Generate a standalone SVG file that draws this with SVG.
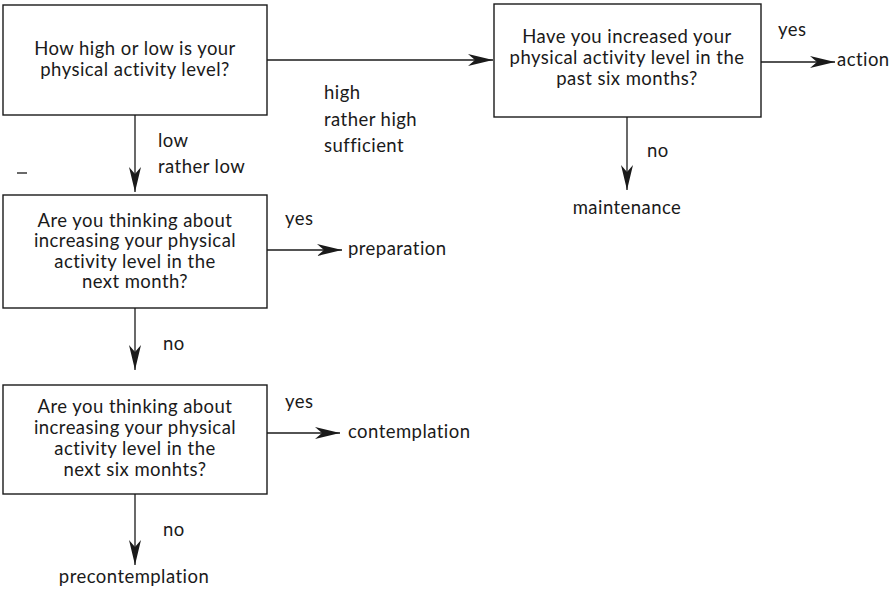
<svg xmlns="http://www.w3.org/2000/svg" width="893" height="594" viewBox="0 0 893 594">
  <style>
    .box { fill: #ffffff; stroke: #1a1a1a; stroke-width: 1.4; }
    .edge { fill: none; stroke: #1a1a1a; stroke-width: 1.3; }
    text { font-family: Lato, "Open Sans", "Liberation Sans", sans-serif; font-size: 18.5px; letter-spacing: 0.45px; fill: #1a1a1a; }
    .c { text-anchor: middle; }
  </style>
  <defs>
    <marker id="barb" markerUnits="userSpaceOnUse" markerWidth="28" markerHeight="16" viewBox="-26 -8 28 16" refX="0" refY="0" orient="auto">
      <path d="M0,0 L-25,-6 L-18,0 L-25,6 Z" fill="#1a1a1a"/>
    </marker>
  </defs>
  <rect width="893" height="594" fill="#ffffff"/>

  <g id="connectors">
    <path class="edge" d="M267,60 H493" marker-end="url(#barb)"/>
    <path class="edge" d="M135,115 V192" marker-end="url(#barb)"/>
    <path class="edge" d="M761,62 H835" marker-end="url(#barb)"/>
    <path class="edge" d="M627,117 V190" marker-end="url(#barb)"/>
    <path class="edge" d="M267,250 H342" marker-end="url(#barb)"/>
    <path class="edge" d="M135,308 V370" marker-end="url(#barb)"/>
    <path class="edge" d="M267,433 H340" marker-end="url(#barb)"/>
    <path class="edge" d="M135,494 V565" marker-end="url(#barb)"/>
    <path class="edge" d="M17,173 H27"/>
  </g>

  <g id="q-level">
    <rect class="box" x="3" y="5" width="264" height="110"/>
    <text class="c" x="135" y="55">How high or low is your</text>
    <text class="c" x="135" y="76">physical activity level?</text>
  </g>

  <g id="q-increased">
    <rect class="box" x="494" y="4" width="267" height="113"/>
    <text class="c" x="627" y="43">Have you increased your</text>
    <text class="c" x="627" y="64">physical activity level in the</text>
    <text class="c" x="627" y="85">past six months?</text>
  </g>

  <g id="q-next-month">
    <rect class="box" x="3" y="195" width="264" height="113"/>
    <text class="c" x="135" y="227">Are you thinking about</text>
    <text class="c" x="135" y="247">increasing your physical</text>
    <text class="c" x="135" y="268">activity level in the</text>
    <text class="c" x="135" y="288">next month?</text>
  </g>

  <g id="q-six-months">
    <rect class="box" x="3" y="385" width="264" height="109"/>
    <text class="c" x="135" y="413">Are you thinking about</text>
    <text class="c" x="135" y="434">increasing your physical</text>
    <text class="c" x="135" y="455">activity level in the</text>
    <text class="c" x="135" y="476">next six monhts?</text>
  </g>

  <g id="labels">
    <text x="158" y="147">low</text>
    <text x="158" y="173">rather low</text>
    <text x="324" y="99">high</text>
    <text x="324" y="126">rather high</text>
    <text x="324" y="152">sufficient</text>
    <text x="778" y="36">yes</text>
    <text x="647" y="157">no</text>
    <text x="285" y="225">yes</text>
    <text x="163" y="350">no</text>
    <text x="285" y="408">yes</text>
    <text x="163" y="536">no</text>
  </g>

  <g id="stage-action"><text x="837" y="66">action</text></g>
  <g id="stage-maintenance"><text class="c" x="627" y="214">maintenance</text></g>
  <g id="stage-preparation"><text x="348" y="255">preparation</text></g>
  <g id="stage-contemplation"><text x="348" y="438">contemplation</text></g>
  <g id="stage-precontemplation"><text class="c" x="134" y="583">precontemplation</text></g>
</svg>
